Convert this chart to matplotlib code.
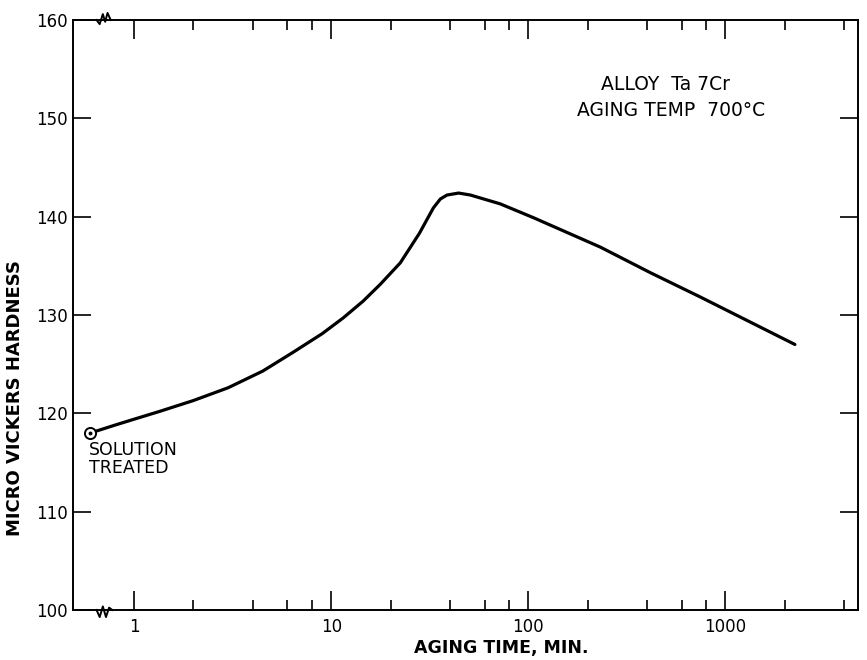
import matplotlib
matplotlib.use("Agg")
import matplotlib.pyplot as plt
from matplotlib.ticker import FixedLocator, NullFormatter

# aging time (min) and micro vickers hardness
aging_time = [0.6, 0.8, 1.0, 1.35, 2.0, 3.0, 4.5, 6.4, 9.0, 11.5, 14.5,
              17.7, 22.4, 28, 33, 35.8, 38.7, 44.3, 50.8, 59.3, 72, 106,
              232, 416, 750, 2250]
hardness = [118.0, 118.8, 119.4, 120.2, 121.3, 122.6, 124.3, 126.2, 128.1,
            129.7, 131.4, 133.1, 135.3, 138.3, 140.9, 141.8, 142.2, 142.4,
            142.2, 141.8, 141.3, 139.9, 136.9, 134.3, 131.8, 127.0]

solution_treated = (0.6, 118.0)

x_major = [1, 10, 100, 1000]
x_major_labels = ["1", "10", "100", "1000"]
x_minor = [2, 4, 6, 8, 20, 40, 60, 80, 200, 400, 600, 800, 2000, 4000]
y_major = [100, 110, 120, 130, 140, 150, 160]

plt.rcParams["font.family"] = ["DejaVu Sans"]

fig = plt.figure(figsize=(8.67, 6.6), dpi=100)
ax = fig.add_axes([0.0842, 0.0758, 0.9054, 0.8939])

ax.plot(aging_time, hardness, color="black", linewidth=2.3,
        solid_capstyle="round", solid_joinstyle="round")
ax.plot(*solution_treated, marker="o", markersize=8, markerfacecolor="white",
        markeredgecolor="black", markeredgewidth=1.4)
ax.plot(*solution_treated, marker="o", markersize=1.8, color="black")

ax.set_xscale("log")
ax.set_xlim(0.49, 4700)
ax.set_ylim(100, 160)

ax.xaxis.set_major_locator(FixedLocator(x_major))
ax.set_xticklabels(x_major_labels)
ax.xaxis.set_minor_locator(FixedLocator(x_minor))
ax.xaxis.set_minor_formatter(NullFormatter())
ax.set_yticks(y_major)
ax.set_yticklabels([str(v) for v in y_major])

ax.tick_params(axis="x", which="major", direction="in", length=14, width=1.2,
               top=True, labelsize=12, pad=6)
ax.tick_params(axis="x", which="minor", direction="in", length=7, width=1.2,
               top=True)
ax.tick_params(axis="y", which="major", direction="in", length=13, width=1.2,
               right=True, labelsize=12, pad=4)
for s in ax.spines.values():
    s.set_linewidth(1.4)

ax.set_xlabel("AGING TIME, MIN.", fontsize=12.5, fontweight="bold")
ax.xaxis.set_label_coords(0.546, -0.05)
ax.set_ylabel("MICRO VICKERS HARDNESS", fontsize=13, fontweight="bold")
ax.yaxis.set_label_coords(-0.062, 0.36)

ax.text(0.755, 0.890, "ALLOY  Ta 7Cr", transform=ax.transAxes,
        ha="center", va="center", fontsize=13.5)
ax.text(0.762, 0.847, "AGING TEMP  700°C", transform=ax.transAxes,
        ha="center", va="center", fontsize=13.5)
ax.text(0.020, 0.271, "SOLUTION", transform=ax.transAxes,
        ha="left", va="center", fontsize=12.5)
ax.text(0.020, 0.240, "TREATED", transform=ax.transAxes,
        ha="left", va="center", fontsize=12.5)

# axis break marks
ax.plot([0.030, 0.034, 0.038, 0.041, 0.044, 0.048],
        [1.0, 0.993, 1.010, 0.997, 1.012, 1.0],
        transform=ax.transAxes, color="black", linewidth=1.4, clip_on=False)
ax.plot([0.030, 0.034, 0.038, 0.042, 0.046, 0.050],
        [0.0, -0.012, 0.006, -0.012, 0.004, 0.0],
        transform=ax.transAxes, color="black", linewidth=1.4, clip_on=False)

fig.savefig("out.png", dpi=100)
